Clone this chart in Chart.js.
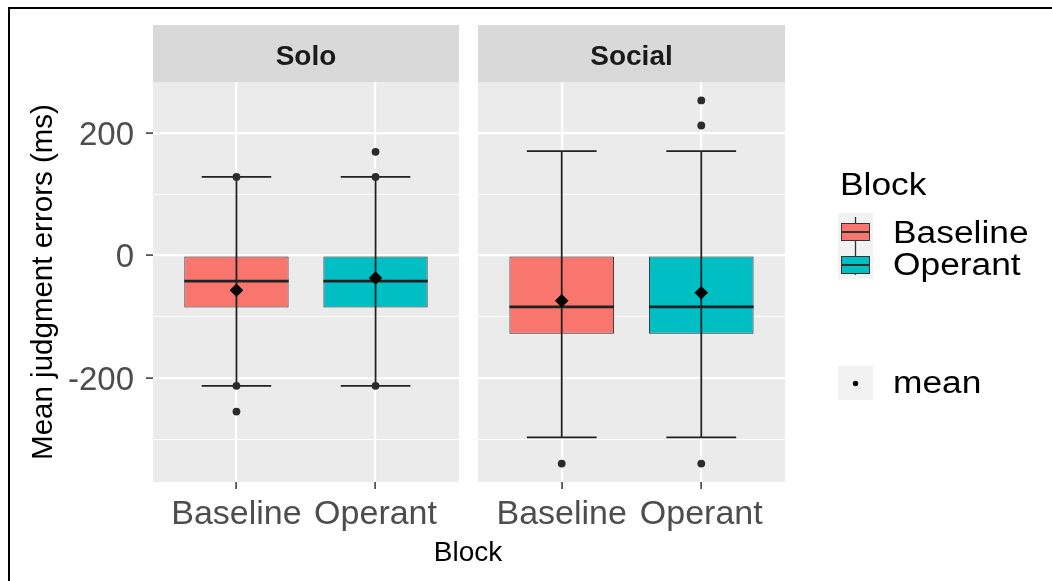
<!DOCTYPE html>
<html>
<head>
<meta charset="utf-8">
<script src="https://cdn.jsdelivr.net/npm/chart.js@4.4.1/dist/chart.umd.min.js"></script>
<style>
  html, body { margin: 0; padding: 0; background: #fff; }
  #wrap { position: relative; width: 1052px; height: 581px; overflow: hidden;
          font-family: "Liberation Sans", Arial, Helvetica, sans-serif; color: #000; }
  #wrap canvas { position: absolute; left: 0; top: 0; }
  .frame { position: absolute; left: 8px; top: 7px; width: 2000px; height: 2000px;
           border-left: 2px solid #000; border-top: 2px solid #000; }
  .ytitle { position: absolute; left: 42px; top: 282px; font-size: 29.5px; line-height: 1;
            white-space: nowrap; transform: translate(-50%, -50%) rotate(-90deg); }
  .xtitle { position: absolute; left: 468px; top: 538px; font-size: 28px; line-height: 1;
            white-space: nowrap; transform: translateX(-50%); }
  .lg { position: absolute; font-size: 31px; line-height: 1; white-space: nowrap;
        transform: scaleX(1.14); transform-origin: 0 0; }
  .key { position: absolute; }
</style>
</head>
<body>
<div id="wrap">
  <canvas id="solo" width="1052" height="581"></canvas>
  <canvas id="social" width="1052" height="581"></canvas>
  <div class="frame"></div>
  <div class="ytitle">Mean judgment errors (ms)</div>
  <div class="xtitle">Block</div>

  <div class="lg" style="left:840px;top:169px;">Block</div>
  <svg class="key" width="35" height="66" style="left:838px;top:213px;">
    <rect x="0" y="0" width="35" height="66" fill="#F2F2F2"/>
    <line x1="17.5" y1="4" x2="17.5" y2="62" stroke="#333" stroke-width="1.3"/>
    <rect x="3.5" y="10.5" width="28" height="17" fill="#F8766D" stroke="#333" stroke-width="1"/>
    <line x1="3.5" y1="19" x2="31.5" y2="19" stroke="#333" stroke-width="2"/>
    <rect x="3.5" y="43.5" width="28" height="17" fill="#00BFC4" stroke="#333" stroke-width="1"/>
    <line x1="3.5" y1="52" x2="31.5" y2="52" stroke="#333" stroke-width="2"/>
  </svg>
  <div class="lg" style="left:893px;top:217px;">Baseline</div>
  <div class="lg" style="left:893px;top:249px;">Operant</div>

  <svg class="key" width="35" height="34" style="left:838px;top:366px;">
    <rect x="0" y="0" width="35" height="34" fill="#F2F2F2"/>
    <circle cx="17.5" cy="17.5" r="2.7" fill="#000"/>
  </svg>
  <div class="lg" style="left:893px;top:367px;">mean</div>
</div>

<script>
// Experimental blocks on the x axis of each facet
const blocks = ['Baseline', 'Operant'];

// Solo facet: box-plot statistics per block (ms)
const soloWhiskerLow  = [-213, -213];
const soloHingeLow    = [-85, -85];
const soloMedian      = [-42, -42];
const soloHingeHigh   = [0, 0];
const soloWhiskerHigh = [128, 128];
const soloMean        = [-57, -37];
const soloPoints      = [[128, -213, -255], [169, 128, -213]];

// Social facet: box-plot statistics per block (ms)
const socialWhiskerLow  = [-297, -297];
const socialHingeLow    = [-128, -128];
const socialMedian      = [-84, -84];
const socialHingeHigh   = [0, 0];
const socialWhiskerHigh = [170, 170];
const socialMean        = [-74, -61];
const socialPoints      = [[-340], [253, 212, -340]];

// y-axis gridlines: labelled majors every 200, minors in between
const yGrid = [-300, -200, -100, 0, 100, 200];
const yMin = -370, yMax = 283;

const blockFill = ['#F8766D', '#00BFC4'];
const FONT = '"Liberation Sans", Arial, Helvetica, sans-serif';
Chart.defaults.font.family = FONT;

// line segments separated by gaps
function segments(list) {
  const out = [];
  list.forEach(([x0, y0, x1, y1]) => {
    out.push({ x: x0, y: y0 }, { x: x1, y: y1 }, { x: x1, y: null });
  });
  return out;
}

// grey panel and facet strip behind the plot
const facetPanel = {
  id: 'facetPanel',
  beforeDraw(chart, args, opts) {
    const { ctx, chartArea: a } = chart;
    ctx.save();
    ctx.fillStyle = '#EBEBEB';
    ctx.fillRect(a.left, a.top, a.right - a.left, a.bottom - a.top);
    ctx.fillStyle = '#D9D9D9';
    ctx.fillRect(a.left, opts.stripTop, a.right - a.left, a.top - opts.stripTop);
    ctx.fillStyle = '#1A1A1A';
    ctx.font = 'bold 28px ' + FONT;
    ctx.textAlign = 'center';
    ctx.textBaseline = 'alphabetic';
    ctx.fillText(opts.title, (a.left + a.right) / 2, opts.stripTop + 40);
    ctx.restore();
  }
};

function facet(canvasId, title, s, left, right, showY) {
  const xs = blocks.map((b, i) => i + 1);
  const whiskers = [];
  const medians = [];
  xs.forEach((x, i) => {
    whiskers.push([x, s.low[i], x, s.high[i]]);
    whiskers.push([x - 0.25, s.high[i], x + 0.25, s.high[i]]);
    whiskers.push([x - 0.25, s.low[i], x + 0.25, s.low[i]]);
    medians.push([x - 0.375, s.median[i], x + 0.375, s.median[i]]);
  });
  const pts = [];
  s.points.forEach((arr, i) => arr.forEach(v => pts.push({ x: xs[i], y: v })));

  return new Chart(document.getElementById(canvasId), {
    type: 'bar',
    data: {
      datasets: [
        {
          type: 'bar',
          data: xs.map((x, i) => ({ x, y: [s.hingeLow[i], s.hingeHigh[i]] })),
          backgroundColor: blockFill,
          borderColor: '#333333',
          borderWidth: 1,
          borderSkipped: false,
          barPercentage: 0.75,
          categoryPercentage: 1,
          order: 5
        },
        {
          type: 'line',
          data: segments(whiskers),
          borderColor: '#222222',
          borderWidth: 1.8,
          pointRadius: 0,
          spanGaps: false,
          fill: false,
          order: 4
        },
        {
          type: 'line',
          data: segments(medians),
          borderColor: '#222222',
          borderWidth: 2.8,
          pointRadius: 0,
          spanGaps: false,
          fill: false,
          order: 3
        },
        {
          type: 'line',
          data: pts,
          showLine: false,
          pointRadius: 3.9,
          pointBackgroundColor: '#2B2B2B',
          pointBorderWidth: 0,
          order: 2
        },
        {
          type: 'line',
          data: xs.map((x, i) => ({ x, y: s.mean[i] })),
          showLine: false,
          pointStyle: 'rectRot',
          pointRadius: 6.8,
          pointBackgroundColor: '#000000',
          pointBorderWidth: 0,
          order: 1
        }
      ]
    },
    options: {
      responsive: false,
      animation: false,
      events: [],
      layout: {
        autoPadding: false,
        padding: { left: showY ? 0 : left, right: 1052 - right, top: 82, bottom: 0 }
      },
      plugins: {
        legend: { display: false },
        tooltip: { enabled: false },
        facetPanel: { title, stripTop: 25 }
      },
      scales: {
        x: {
          type: 'linear',
          min: 0.4,
          max: 2.6,
          offset: false,
          afterBuildTicks: ax => { ax.ticks = xs.map(v => ({ value: v })); },
          afterFit: ax => { ax.height = 99; },
          border: { display: false },
          grid: {
            offset: false,
            color: '#FFFFFF',
            lineWidth: 2.2,
            drawTicks: true,
            tickLength: 7,
            tickColor: '#333333',
            tickWidth: 1.5
          },
          ticks: {
            autoSkip: false,
            maxRotation: 0,
            minRotation: 0,
            padding: 5,
            color: '#4D4D4D',
            font: { size: 34 },
            callback: v => blocks[Math.round(v) - 1] || ''
          }
        },
        y: {
          type: 'linear',
          min: yMin,
          max: yMax,
          afterBuildTicks: ax => { ax.ticks = yGrid.map(v => ({ value: v })); },
          afterFit: ax => { ax.width = showY ? left : 0; },
          border: { display: false },
          grid: {
            color: '#FFFFFF',
            lineWidth: c => (c.tick && c.tick.value % 200 === 0 ? 2.2 : 1.1),
            drawTicks: showY,
            tickLength: 7,
            tickWidth: 1.5,
            tickColor: c => (c.tick && c.tick.value % 200 === 0 ? '#333333' : 'rgba(0,0,0,0)')
          },
          ticks: {
            display: showY,
            padding: 12,
            labelOffset: 3,
            color: '#4D4D4D',
            font: { size: 33 },
            callback: v => (v % 200 === 0 ? String(v) : '')
          }
        }
      }
    },
    plugins: [facetPanel]
  });
}

facet('solo', 'Solo', {
  low: soloWhiskerLow, hingeLow: soloHingeLow, median: soloMedian,
  hingeHigh: soloHingeHigh, high: soloWhiskerHigh, mean: soloMean, points: soloPoints
}, 153, 459, true);

facet('social', 'Social', {
  low: socialWhiskerLow, hingeLow: socialHingeLow, median: socialMedian,
  hingeHigh: socialHingeHigh, high: socialWhiskerHigh, mean: socialMean, points: socialPoints
}, 478, 785, false);
</script>
</body>
</html>
